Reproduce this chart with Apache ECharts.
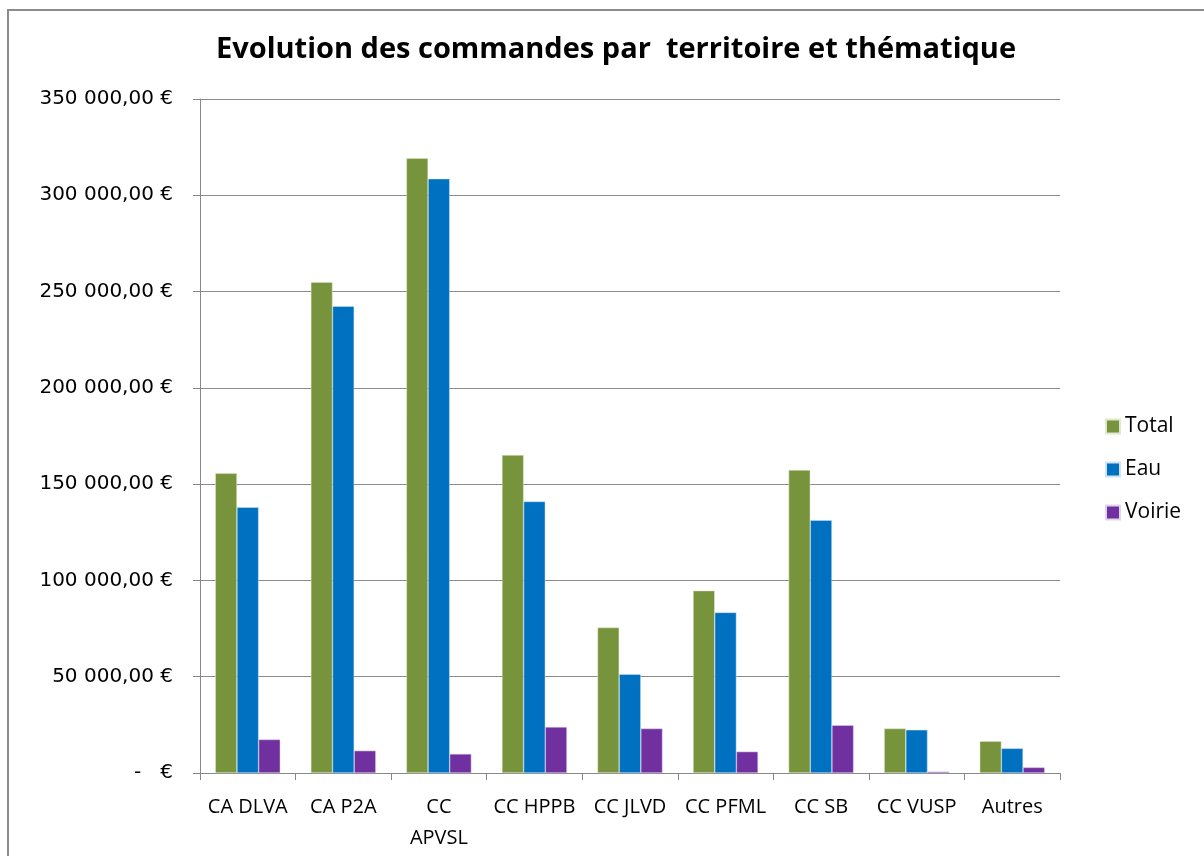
<html>
<head>
    <meta charset='utf-8'/>
    <title>Evolution des commandes</title>
    <style>
        body {
            margin: 0;
            padding: 0;
            background: #fff;
        }

        #frame {
            position: absolute;
            left: 7px;
            top: 9px;
            width: 1220px;
            height: 880px;
            border: 2px solid #8c8c8c;
            box-sizing: border-box;
        }

        #chart {
            position: absolute;
            top: 0;
            left: 0;
            width: 1204px;
            height: 856px;
        }
    </style>
</head>
<body>
<div id='frame'></div>
<div id='chart'></div>
<script type="text/javascript" src="https://cdn.jsdelivr.net/npm/echarts@6/dist/echarts.min.js"></script>
<script type="text/javascript">
    var categories = ['CA DLVA', 'CA P2A', 'CC\nAPVSL', 'CC HPPB', 'CC JLVD', 'CC PFML', 'CC SB', 'CC VUSP', 'Autres'];
    var total = [155600, 254900, 319200, 165100, 75500, 94700, 157300, 23100, 16500];
    var eau = [138000, 242400, 308600, 141000, 51300, 83400, 131300, 22400, 12800];
    var voirie = [17400, 11600, 9900, 23900, 23100, 11100, 24800, 700, 2900];

    function euro(v) {
        if (v === 0) return '-   €';
        var s = String(Math.round(v)).replace(/\B(?=(\d{3})+(?!\d))/g, ' ');
        return s + ',00 €';
    }

    var chart = echarts.init(document.getElementById('chart'));
    var option = {
        animation: false,
        title: {
            text: 'Evolution des commandes par  territoire et thématique',
            left: 611,
            textAlign: 'center',
            top: 30,
            textStyle: {
                fontFamily: 'Open Sans',
                fontWeight: 'bold',
                fontSize: 29,
                color: '#000'
            }
        },
        legend: {
            orient: 'vertical',
            left: 1100,
            top: 411,
            itemGap: 22,
            itemWidth: 14,
            itemHeight: 14,
            icon: 'rect',
            textStyle: {
                fontFamily: 'Open Sans',
                fontSize: 21,
                color: '#000'
            },
            data: ['Total', 'Eau', 'Voirie']
        },
        grid: {
            left: 200,
            right: 144,
            top: 99,
            bottom: 83
        },
        xAxis: {
            type: 'category',
            data: categories,
            axisLine: {lineStyle: {color: '#888', width: 1}},
            axisTick: {show: true, length: 7, lineStyle: {color: '#888'}},
            axisLabel: {
                fontFamily: 'Open Sans',
                fontSize: 20,
                color: '#000',
                margin: 19,
                lineHeight: 31,
                interval: 0
            }
        },
        yAxis: {
            type: 'value',
            min: 0,
            max: 350000,
            interval: 50000,
            axisLine: {show: true, lineStyle: {color: '#888', width: 1}},
            axisTick: {show: true, length: 7, lineStyle: {color: '#888'}},
            splitLine: {lineStyle: {color: '#8a8a8a', width: 1}},
            axisLabel: {
                fontFamily: 'DejaVu Sans',
                fontSize: 20,
                color: '#000',
                margin: 27,
                formatter: euro
            }
        },
        series: [
            {
                name: 'Total',
                type: 'bar',
                data: total,
                barGap: '0%',
                barCategoryGap: '32%',
                itemStyle: {color: '#77933C', borderColor: '#dfe8cf', borderWidth: 0.5}
            },
            {
                name: 'Eau',
                type: 'bar',
                data: eau,
                itemStyle: {color: '#0070C0', borderColor: '#cfe3f3', borderWidth: 0.5}
            },
            {
                name: 'Voirie',
                type: 'bar',
                data: voirie,
                itemStyle: {color: '#7030A0', borderColor: '#e2d3ee', borderWidth: 0.5}
            }
        ]
    };
    chart.setOption(option);
</script>
</body>
</html>
